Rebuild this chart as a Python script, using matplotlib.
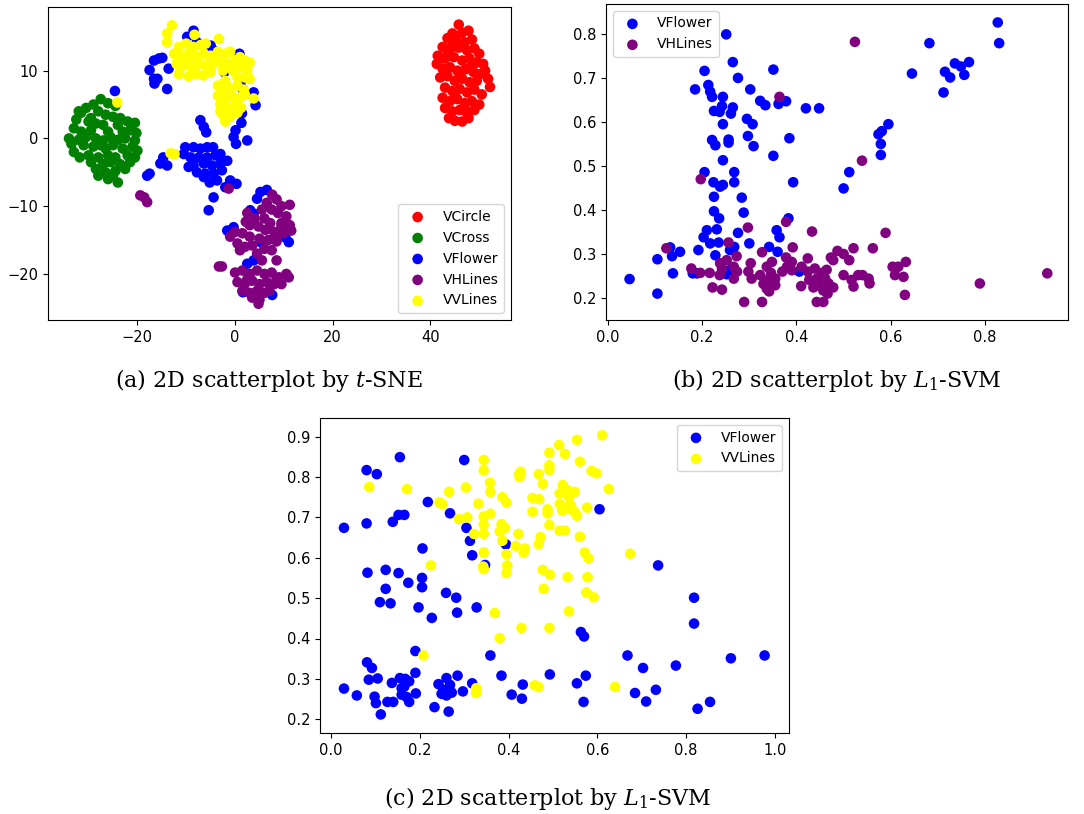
import matplotlib
matplotlib.use('Agg')
import matplotlib.pyplot as plt

# (a) t-SNE embedding
tsne_circle = [(45.8,16.8),(44.5,15.5),(46.5,15.6),(47.8,15.9),(43.5,14.8),(45.2,14.5),(47.0,14.2),(48.5,14.6),
               (42.5,13.5),(44.0,13.2),(45.8,13.4),(47.5,13.0),(49.0,13.3),(50.0,12.5),(41.5,12.2),(43.0,11.8),
               (44.8,12.0),(46.5,11.5),(48.0,11.8),(49.5,11.2),(50.8,11.0),(41.3,11.0),(42.5,10.3),(44.0,10.5),
               (45.5,10.0),(47.2,10.2),(48.8,9.8),(50.2,9.5),(51.2,10.0),(42.0,9.0),(43.5,9.2),(45.0,8.5),
               (46.5,8.8),(48.0,8.3),(49.5,8.5),(51.8,8.8),(52.2,7.6),(43.0,7.5),(44.5,7.0),(46.0,7.3),
               (47.5,6.8),(49.0,7.2),(50.5,6.5),(42.5,6.0),(44.0,5.5),(45.5,5.8),(47.0,5.2),(48.5,5.5),
               (50.0,5.0),(43.0,4.5),(44.5,4.0),(46.0,4.2),(47.5,3.8),(49.0,4.2),(43.8,3.0),(45.0,2.6),
               (46.5,2.5),(47.8,3.0),(44.5,13.8),(46.0,9.5),(43.5,12.5),(48.5,10.8),(45.0,6.3),(47.0,4.5)]
tsne_cross = [(-27.5,5.8),(-26.0,5.2),(-29.0,5.0),(-30.5,4.5),(-24.5,4.8),(-31.5,3.8),(-28.0,4.0),(-26.5,3.5),
              (-25.0,3.2),(-23.5,3.0),(-32.5,2.8),(-30.0,2.5),(-28.5,2.2),(-27.0,2.0),(-24.0,2.0),(-22.0,2.5),
              (-20.5,2.3),(-33.0,1.5),(-31.5,1.0),(-29.5,1.2),(-26.0,1.0),(-23.0,1.0),(-21.5,1.2),(-20.2,0.8),
              (-34.0,0.0),(-32.0,-0.2),(-30.5,0.2),(-28.5,0.0),(-27.0,-0.3),(-25.5,0.2),(-24.0,-0.2),(-22.5,0.0),
              (-20.5,-0.3),(-33.5,-0.8),(-31.0,-1.0),(-29.0,-1.2),(-26.5,-1.5),(-25.0,-1.0),(-23.0,-1.5),(-21.0,-1.2),
              (-20.0,-1.8),(-33.0,-2.0),(-31.8,-2.8),(-30.0,-2.5),(-28.0,-2.8),(-26.0,-2.5),(-24.5,-2.8),(-22.0,-2.5),
              (-20.5,-2.8),(-29.5,-3.5),(-27.0,-3.8),(-25.5,-3.5),(-23.5,-3.8),(-21.5,-3.5),(-28.5,-4.5),(-26.5,-5.0),
              (-24.5,-4.8),(-22.5,-4.5),(-28.0,-5.5),(-26.0,-6.0),(-24.0,-6.5),(-27.5,-1.0),(-29.5,3.0),(-25.0,-5.5),
              (-32.0,4.0)]
tsne_flower = [(-24.6,7.0),(-17.5,10.1),(-16.6,8.8),(-16.5,8.1),(-15.9,8.8),(-13.9,7.3),(-16.6,11.5),(-15.6,11.8),
               (-14.9,11.9),(-13.6,10.3),(-8.5,15.9),(-9.8,15.0),(-7.8,14.2),(-5.0,13.7),(-4.4,13.0),(0.9,12.5),
               (-2.2,9.8),(1.1,8.3),(1.6,7.3),(3.8,6.8),(4.2,4.9),(1.4,3.7),(1.3,2.3),(0.1,1.2),(-0.3,0.2),
               (0.2,-0.8),(2.5,-0.3),(-7.1,2.7),(-6.4,1.7),(-5.9,0.9),
               (-10.2,-1.3),(-10.5,-2.3),(-8.5,-1.3),(-7.1,-1.5),(-5.7,-1.3),(-4.5,-1.3),(-9.1,-2.8),(-7.4,-2.8),
               (-5.7,-2.8),(-4.0,-2.5),(-3.0,-2.3),(-8.5,-4.0),(-6.4,-3.7),(-4.7,-4.0),(-3.0,-3.7),(-1.6,-3.3),
               (-9.5,-4.2),(-7.8,-5.0),(-6.1,-5.2),(-4.4,-5.2),(-2.7,-4.7),(-5.2,-6.5),(-6.4,-5.7),(-3.7,-6.2),
               (-1.0,-6.2),(0.3,-6.7),(-2.0,-7.2),(-4.4,-8.7),(-5.4,-10.6),(-14.7,-2.8),(-13.9,-4.0),(-15.3,-3.7),
               (-18.0,-5.5),(-17.5,-5.2),(6.5,-7.6),(5.2,-7.9),(4.5,-8.9),(3.1,-10.6),(3.8,-11.1),(-1.6,-13.6),
               (-0.3,-13.1),(5.2,-15.3),(10.3,-14.6),(11.0,-15.3),(2.5,-18.5),(3.8,-18.0),(1.6,-22.7),(7.6,-23.1),
               (8.6,-14.1)]
tsne_hlines = [(-19.4,-8.4),(-18.6,-8.7),(-18.0,-9.4),(-1.3,-7.4),(-3.3,-18.9),(-2.7,-18.9),
               (7.6,-8.3),(8.5,-9.0),(6.5,-9.5),(9.5,-10.0),(11.2,-9.8),(5.5,-10.5),(7.5,-10.5),(8.8,-11.0),
               (10.5,-11.5),(2.5,-11.0),(4.0,-11.8),(6.0,-11.8),(7.2,-12.5),(9.5,-12.5),(11.2,-12.8),(3.0,-12.8),
               (4.8,-13.0),(6.2,-13.5),(8.0,-13.8),(10.0,-14.0),(11.5,-13.6),(0.0,-13.8),(1.5,-14.0),(3.0,-14.5),
               (5.0,-14.8),(6.8,-15.0),(8.5,-15.2),(-1.0,-14.5),(0.5,-15.5),(2.0,-16.0),(3.5,-15.8),(6.0,-16.3),
               (7.5,-16.5),(1.0,-16.5),(4.5,-17.0),(5.5,-18.0),(8.5,-18.0),(9.5,-13.0),(8.2,-14.5),(2.2,-12.3),
               (0.0,-19.8),(1.5,-19.5),(3.0,-20.0),(4.5,-19.5),(6.0,-20.0),(7.5,-19.8),(9.0,-20.5),(10.5,-20.0),
               (11.0,-20.5),(0.5,-21.2),(2.0,-21.5),(3.5,-21.0),(5.0,-21.5),(6.5,-21.2),(8.0,-21.5),(9.5,-21.5),
               (1.5,-22.5),(3.0,-22.8),(4.5,-22.5),(6.0,-22.8),(7.0,-22.5),(3.5,-23.5),(5.0,-23.8),(4.8,-24.4),
               (2.5,-20.8),(8.5,-20.8)]
tsne_vlines = [(-12.9,16.7),(-13.9,15.5),(-13.9,14.2),(-3.3,14.7),(-8.3,15.3),
               (-11.5,13.5),(-10.0,14.0),(-8.5,13.5),(-7.0,13.8),(-12.5,12.5),(-11.0,12.0),(-9.5,12.5),(-8.0,12.0),
               (-6.5,12.5),(-5.0,12.2),(-3.5,12.8),(-2.0,12.5),(-12.0,11.0),(-10.5,10.8),(-9.0,10.5),(-7.5,11.0),
               (-6.0,10.8),(-4.5,11.0),(-3.0,11.3),(-11.5,9.5),(-9.5,9.2),(-8.0,9.5),(-6.5,9.3),(-5.0,9.8),
               (-1.5,11.0),(0.0,11.5),(1.0,12.0),(2.0,11.5),(3.0,11.2),(-0.5,10.0),(1.0,10.5),(2.5,10.0),
               (0.5,9.0),(2.0,9.0),(3.0,8.8),(-2.0,8.5),(-3.5,7.8),(-2.5,7.0),(-1.0,7.5),(0.5,7.8),(1.8,7.2),
               (-3.5,6.3),(-2.0,5.8),(-0.5,6.2),(1.0,6.0),(2.0,6.5),(-3.0,5.0),(-1.5,4.5),(0.0,4.8),(1.2,4.5),
               (-2.5,3.5),(-1.0,3.2),(0.5,3.8),(-2.0,2.5),(-3.0,4.0),(-4.0,11.5),(-1.0,12.8),(-2.5,10.0),
               (-10.0,11.5),(-6.0,14.0),(3.8,5.9),(-24.1,5.3),(-13.2,-2.2),(-12.4,-2.3)]

# (b) L1-SVM, VFlower vs VHLines
svm_b_flower = [(0.046,0.244),(0.105,0.289),(0.105,0.211),(0.132,0.316),(0.136,0.296),(0.153,0.306),(0.138,0.257),
                (0.180,0.257),(0.192,0.310),(0.203,0.339),(0.210,0.355),(0.217,0.325),(0.231,0.357),(0.228,0.298),
                (0.235,0.327),(0.225,0.398),(0.236,0.382),(0.225,0.431),(0.224,0.464),(0.238,0.454),(0.244,0.458),
                (0.205,0.487),(0.244,0.514),(0.221,0.560),(0.228,0.548),(0.244,0.596),(0.225,0.626),(0.237,0.624),
                (0.242,0.637),(0.244,0.658),(0.221,0.658),(0.213,0.685),(0.217,0.670),(0.185,0.675),(0.205,0.717),
                (0.251,0.800),(0.265,0.737),(0.276,0.701),(0.265,0.634),(0.261,0.620),(0.256,0.561),(0.256,0.554),
                (0.268,0.487),(0.268,0.464),(0.284,0.429),(0.288,0.395),(0.276,0.349),(0.268,0.317),(0.259,0.310),
                (0.258,0.264),(0.252,0.255),(0.295,0.608),(0.307,0.596),(0.297,0.569),(0.309,0.546),(0.302,0.675),
                (0.300,0.325),(0.323,0.649),(0.334,0.639),(0.351,0.720),(0.351,0.524),(0.358,0.355),(0.364,0.339),
                (0.342,0.317),(0.360,0.306),(0.362,0.642),(0.378,0.648),(0.385,0.564),(0.393,0.464),(0.383,0.382),
                (0.406,0.261),(0.420,0.632),(0.448,0.632),(0.500,0.450),(0.512,0.487),(0.579,0.526),(0.579,0.551),
                (0.574,0.573),(0.581,0.580),(0.595,0.596),(0.645,0.711),(0.682,0.780),(0.712,0.668),(0.715,0.715),
                (0.726,0.702),(0.736,0.734),(0.749,0.727),(0.756,0.708),(0.766,0.737),(0.827,0.827),(0.830,0.780),
                (0.189,0.257)]
svm_b_hlines = [(0.524,0.783),(0.364,0.658),(0.539,0.513),(0.197,0.471),(0.378,0.374),(0.297,0.361),(0.433,0.352),
                (0.589,0.349),(0.256,0.327),(0.124,0.314),(0.327,0.305),(0.392,0.316),(0.521,0.314),(0.562,0.314),
                (0.487,0.308),(0.500,0.301),(0.473,0.293),(0.478,0.287),(0.512,0.287),(0.632,0.283),(0.273,0.296),
                (0.303,0.280),(0.348,0.283),(0.378,0.293),(0.390,0.283),(0.424,0.291),(0.604,0.272),(0.616,0.272),
                (0.177,0.268),(0.196,0.258),(0.216,0.258),(0.238,0.280),(0.242,0.268),(0.252,0.287),(0.267,0.272),
                (0.274,0.261),(0.237,0.253),(0.267,0.245),(0.298,0.261),(0.305,0.245),(0.323,0.253),(0.337,0.272),
                (0.346,0.258),(0.355,0.245),(0.337,0.241),(0.355,0.230),(0.330,0.233),(0.337,0.222),(0.342,0.216),
                (0.327,0.192),(0.289,0.192),(0.370,0.261),(0.380,0.272),(0.390,0.264),(0.411,0.272),(0.424,0.261),
                (0.410,0.228),(0.427,0.242),(0.439,0.268),(0.443,0.245),(0.447,0.230),(0.436,0.225),(0.454,0.258),
                (0.461,0.245),(0.468,0.234),(0.457,0.218),(0.466,0.211),(0.478,0.225),(0.443,0.192),(0.457,0.192),
                (0.500,0.253),(0.517,0.242),(0.521,0.227),(0.531,0.253),(0.540,0.253),(0.553,0.245),(0.555,0.234),
                (0.627,0.249),(0.609,0.253),(0.630,0.208),(0.789,0.234),(0.932,0.257),(0.222,0.225),(0.242,0.220),
                (0.464,0.265)]

# (c) L1-SVM, VFlower vs VVLines
svm_c_flower = [(0.029,0.674),(0.080,0.817),(0.103,0.807),(0.155,0.849),(0.300,0.842),(0.080,0.685),(0.139,0.689),
                (0.152,0.706),(0.165,0.706),(0.218,0.738),(0.268,0.710),(0.305,0.674),(0.313,0.642),(0.318,0.606),
                (0.347,0.582),(0.394,0.633),(0.605,0.720),(0.206,0.623),(0.082,0.563),(0.123,0.570),(0.152,0.562),
                (0.123,0.523),(0.174,0.538),(0.205,0.550),(0.205,0.527),(0.110,0.490),(0.134,0.487),(0.197,0.477),
                (0.227,0.451),(0.259,0.513),(0.282,0.501),(0.284,0.464),(0.328,0.477),(0.359,0.358),(0.384,0.308),
                (0.737,0.581),(0.818,0.501),(0.818,0.437),(0.563,0.416),(0.570,0.405),(0.668,0.358),(0.703,0.327),
                (0.777,0.333),(0.901,0.351),(0.977,0.358),(0.685,0.265),(0.710,0.244),(0.732,0.273),(0.826,0.226),
                (0.854,0.243),(0.493,0.311),(0.574,0.308),(0.554,0.289),(0.569,0.243),(0.407,0.261),(0.432,0.286),
                (0.430,0.251),(0.190,0.369),(0.081,0.341),(0.092,0.327),(0.029,0.276),(0.058,0.259),(0.085,0.298),
                (0.105,0.301),(0.098,0.256),(0.101,0.240),(0.112,0.212),(0.137,0.290),(0.127,0.243),(0.140,0.243),
                (0.155,0.302),(0.167,0.300),(0.159,0.277),(0.159,0.261),(0.176,0.294),(0.176,0.243),(0.170,0.255),
                (0.190,0.315),(0.191,0.264),(0.242,0.287),(0.253,0.273),(0.260,0.302),(0.260,0.259),(0.268,0.285),
                (0.272,0.266),(0.249,0.263),(0.265,0.219),(0.233,0.230),(0.285,0.308),(0.297,0.269),(0.318,0.289),
                (0.165,0.281)]
svm_c_vlines = [(0.086,0.775),(0.171,0.770),(0.225,0.581),(0.208,0.358),(0.244,0.737),(0.251,0.733),(0.266,0.763),
                (0.288,0.696),(0.304,0.774),(0.307,0.700),(0.322,0.659),(0.332,0.734),(0.344,0.842),(0.344,0.816),
                (0.358,0.786),(0.359,0.763),(0.359,0.709),(0.344,0.702),(0.344,0.682),(0.344,0.659),(0.344,0.613),
                (0.344,0.572),(0.386,0.750),(0.395,0.737),(0.384,0.683),(0.392,0.674),(0.380,0.665),(0.386,0.642),
                (0.395,0.609),(0.397,0.581),(0.395,0.562),(0.369,0.463),(0.380,0.401),(0.327,0.277),(0.327,0.265),
                (0.424,0.807),(0.427,0.813),(0.425,0.800),(0.422,0.659),(0.416,0.629),(0.437,0.623),(0.434,0.613),
                (0.429,0.426),(0.454,0.748),(0.454,0.714),(0.468,0.807),(0.469,0.745),(0.477,0.783),(0.472,0.651),
                (0.468,0.634),(0.477,0.570),(0.493,0.558),(0.479,0.523),(0.492,0.426),(0.459,0.284),(0.468,0.280),
                (0.492,0.860),(0.492,0.829),(0.492,0.817),(0.488,0.720),(0.488,0.710),(0.492,0.681),(0.514,0.879),
                (0.527,0.857),(0.515,0.759),(0.522,0.780),(0.515,0.733),(0.521,0.725),(0.521,0.716),(0.532,0.768),
                (0.536,0.750),(0.538,0.733),(0.542,0.720),(0.547,0.716),(0.549,0.763),(0.515,0.667),(0.527,0.667),
                (0.533,0.552),(0.536,0.467),(0.554,0.892),(0.561,0.838),(0.561,0.652),(0.554,0.704),(0.577,0.724),
                (0.572,0.613),(0.580,0.599),(0.578,0.552),(0.575,0.514),(0.592,0.502),(0.587,0.815),(0.598,0.809),
                (0.611,0.903),(0.626,0.770),(0.674,0.610),(0.640,0.280),(0.343,0.578)]

captions = [r'(a) 2D scatterplot by $t$-SNE', r'(b) 2D scatterplot by $L_1$-SVM', r'(c) 2D scatterplot by $L_1$-SVM']

plt.rcParams['font.size'] = 10.5
plt.rcParams['legend.fontsize'] = 10
plt.rcParams['mathtext.fontset'] = 'dejavuserif'

fig = plt.figure(figsize=(10.84, 8.14), dpi=100)
W, H = 1084.0, 814.0

def add_ax(left, top, right, bottom):
    return fig.add_axes([left / W, 1 - bottom / H, (right - left) / W, (bottom - top) / H])

def scat(ax, pts, color, label):
    xs = [p[0] for p in pts]
    ys = [p[1] for p in pts]
    ax.scatter(xs, ys, s=58, c=color, label=label, edgecolors='none')

ax1 = add_ax(48, 7, 511, 320)
scat(ax1, tsne_circle, 'red', 'VCircle')
scat(ax1, tsne_cross, 'green', 'VCross')
scat(ax1, tsne_flower, 'blue', 'VFlower')
scat(ax1, tsne_hlines, 'purple', 'VHLines')
scat(ax1, tsne_vlines, 'yellow', 'VVLines')
ax1.set_xlim(-38.3, 56.5)
ax1.set_ylim(-26.8, 19.4)
ax1.set_xticks([-20, 0, 20, 40])
ax1.set_yticks([-20, -10, 0, 10])
ax1.legend(loc='lower right')

ax2 = add_ax(606, 4, 1068, 320)
scat(ax2, svm_b_flower, 'blue', 'VFlower')
scat(ax2, svm_b_hlines, 'purple', 'VHLines')
ax2.set_xlim(-0.004, 0.976)
ax2.set_ylim(0.151, 0.869)
ax2.legend(loc='upper left')

ax3 = add_ax(320, 418, 789, 733)
scat(ax3, svm_c_flower, 'blue', 'VFlower')
scat(ax3, svm_c_vlines, 'yellow', 'VVLines')
ax3.set_xlim(-0.025, 1.032)
ax3.set_ylim(0.166, 0.946)
ax3.legend(loc='upper right')

cap_font = dict(family='DejaVu Serif', fontsize=16, ha='center', va='center')
fig.text(269 / W, 1 - 381 / H, captions[0], **cap_font)
fig.text(836 / W, 1 - 381 / H, captions[1], **cap_font)
fig.text(548 / W, 1 - 798 / H, captions[2], **cap_font)

fig.savefig('out.png', dpi=100)
